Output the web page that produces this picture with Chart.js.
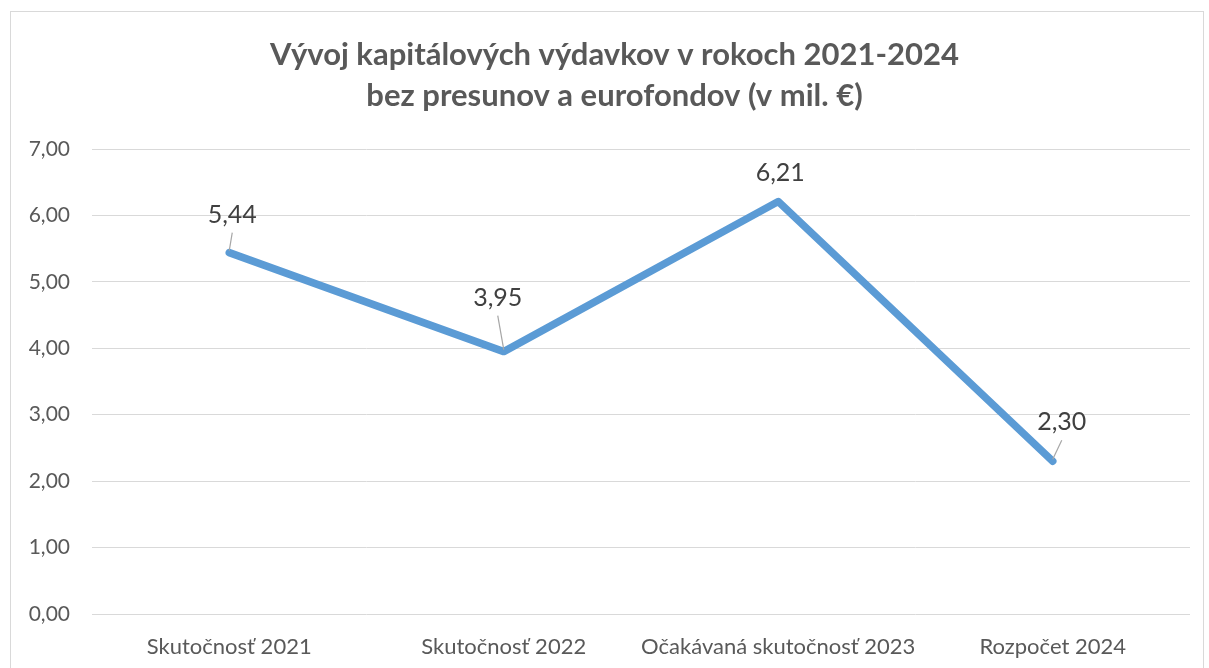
<!DOCTYPE html>
<html>
<head>
<meta charset="utf-8">
<script src="https://cdn.jsdelivr.net/npm/chart.js@4"></script>
<style>
  html,body{margin:0;padding:0;background:#fff;overflow:hidden}
  #wrap{position:relative;width:1209px;height:668px}
  #frame{position:absolute;left:10px;top:11px;width:1194px;height:700px;border:1px solid #d9d9d9;box-sizing:border-box}
  #c{position:absolute;left:0;top:0}
</style>
</head>
<body>
<div id="wrap">
  <div id="frame"></div>
  <canvas id="c" width="1209" height="668"></canvas>
</div>
<script>
// data
const categories = ['Skutočnosť 2021', 'Skutočnosť 2022', 'Očakávaná skutočnosť 2023', 'Rozpočet 2024'];
const values     = [5.44, 3.95, 6.21, 2.30];
const titleLines = ['Vývoj kapitálových výdavkov v rokoch 2021-2024', 'bez presunov a eurofondov (v mil. €)'];

const FONT = 'Lato, "Open Sans", sans-serif';
const fmt = v => v.toFixed(2).replace('.', ',');

// label placement relative to point (px), like Excel's dragged labels
const labelOffsets = [[3,-38],[-6,-54],[2,-29],[9,-39]];

// title drawn by hand so it can sit where Excel put it (slightly right of centre)
const titlePlugin = {
  id: 'xlTitle',
  afterDraw(chart) {
    const ctx = chart.ctx;
    ctx.save();
    ctx.font = 'bold 31px ' + FONT;
    ctx.fillStyle = '#595959';
    ctx.textAlign = 'center';
    ctx.textBaseline = 'alphabetic';
    const cx = chart.width / 2 + 10;
    titleLines.forEach((t, i) => ctx.fillText(t, cx, 65 + i * 41));
    ctx.restore();
  }
};

const labelPlugin = {
  id: 'pointLabels',
  afterDatasetsDraw(chart) {
    const ctx = chart.ctx;
    const meta = chart.getDatasetMeta(0);
    ctx.save();
    ctx.font = '25px ' + FONT;
    ctx.textAlign = 'center';
    ctx.textBaseline = 'middle';
    meta.data.forEach((pt, i) => {
      const [dx, dy] = labelOffsets[i];
      const lx = pt.x + dx, ly = pt.y + dy;
      // leader line when label sits away from the point
      if (Math.abs(dy) > 32) {
        ctx.strokeStyle = '#a6a6a6';
        ctx.lineWidth = 1.2;
        ctx.beginPath();
        ctx.moveTo(pt.x, pt.y - 2);
        ctx.lineTo(lx, ly + 18);
        ctx.stroke();
      }
      ctx.fillStyle = '#404040';
      ctx.fillText(fmt(values[i]), lx, ly);
    });
    ctx.restore();
  }
};

new Chart(document.getElementById('c'), {
  type: 'line',
  data: {
    labels: categories,
    datasets: [{
      data: values,
      borderColor: '#5b9bd5',
      borderWidth: 7.5,
      borderCapStyle: 'round',
      borderJoinStyle: 'round',
      pointRadius: 0,
      tension: 0,
      fill: false
    }]
  },
  options: {
    responsive: false,
    animation: false,
    layout: { padding: { left: 0, right: 19, top: 149, bottom: 0 } },
    plugins: {
      legend: { display: false },
      tooltip: { enabled: false },
      title: { display: false }
    },
    scales: {
      x: {
        offset: true,
        grid: { display: false },
        border: { display: false },
        ticks: { color: '#595959', font: { family: FONT, size: 22 }, padding: 12, maxRotation: 0, autoSkip: false },
        afterFit: s => { s.height = 54; }
      },
      y: {
        min: 0, max: 7,
        ticks: { stepSize: 1, color: '#595959', font: { family: FONT, size: 21 }, padding: 22, callback: v => fmt(v) },
        grid: { color: '#d9d9d9', lineWidth: 1, drawTicks: false },
        border: { display: false },
        afterFit: s => { s.width = 92; }
      }
    }
  },
  plugins: [labelPlugin, titlePlugin]
});
</script>
</body>
</html>
